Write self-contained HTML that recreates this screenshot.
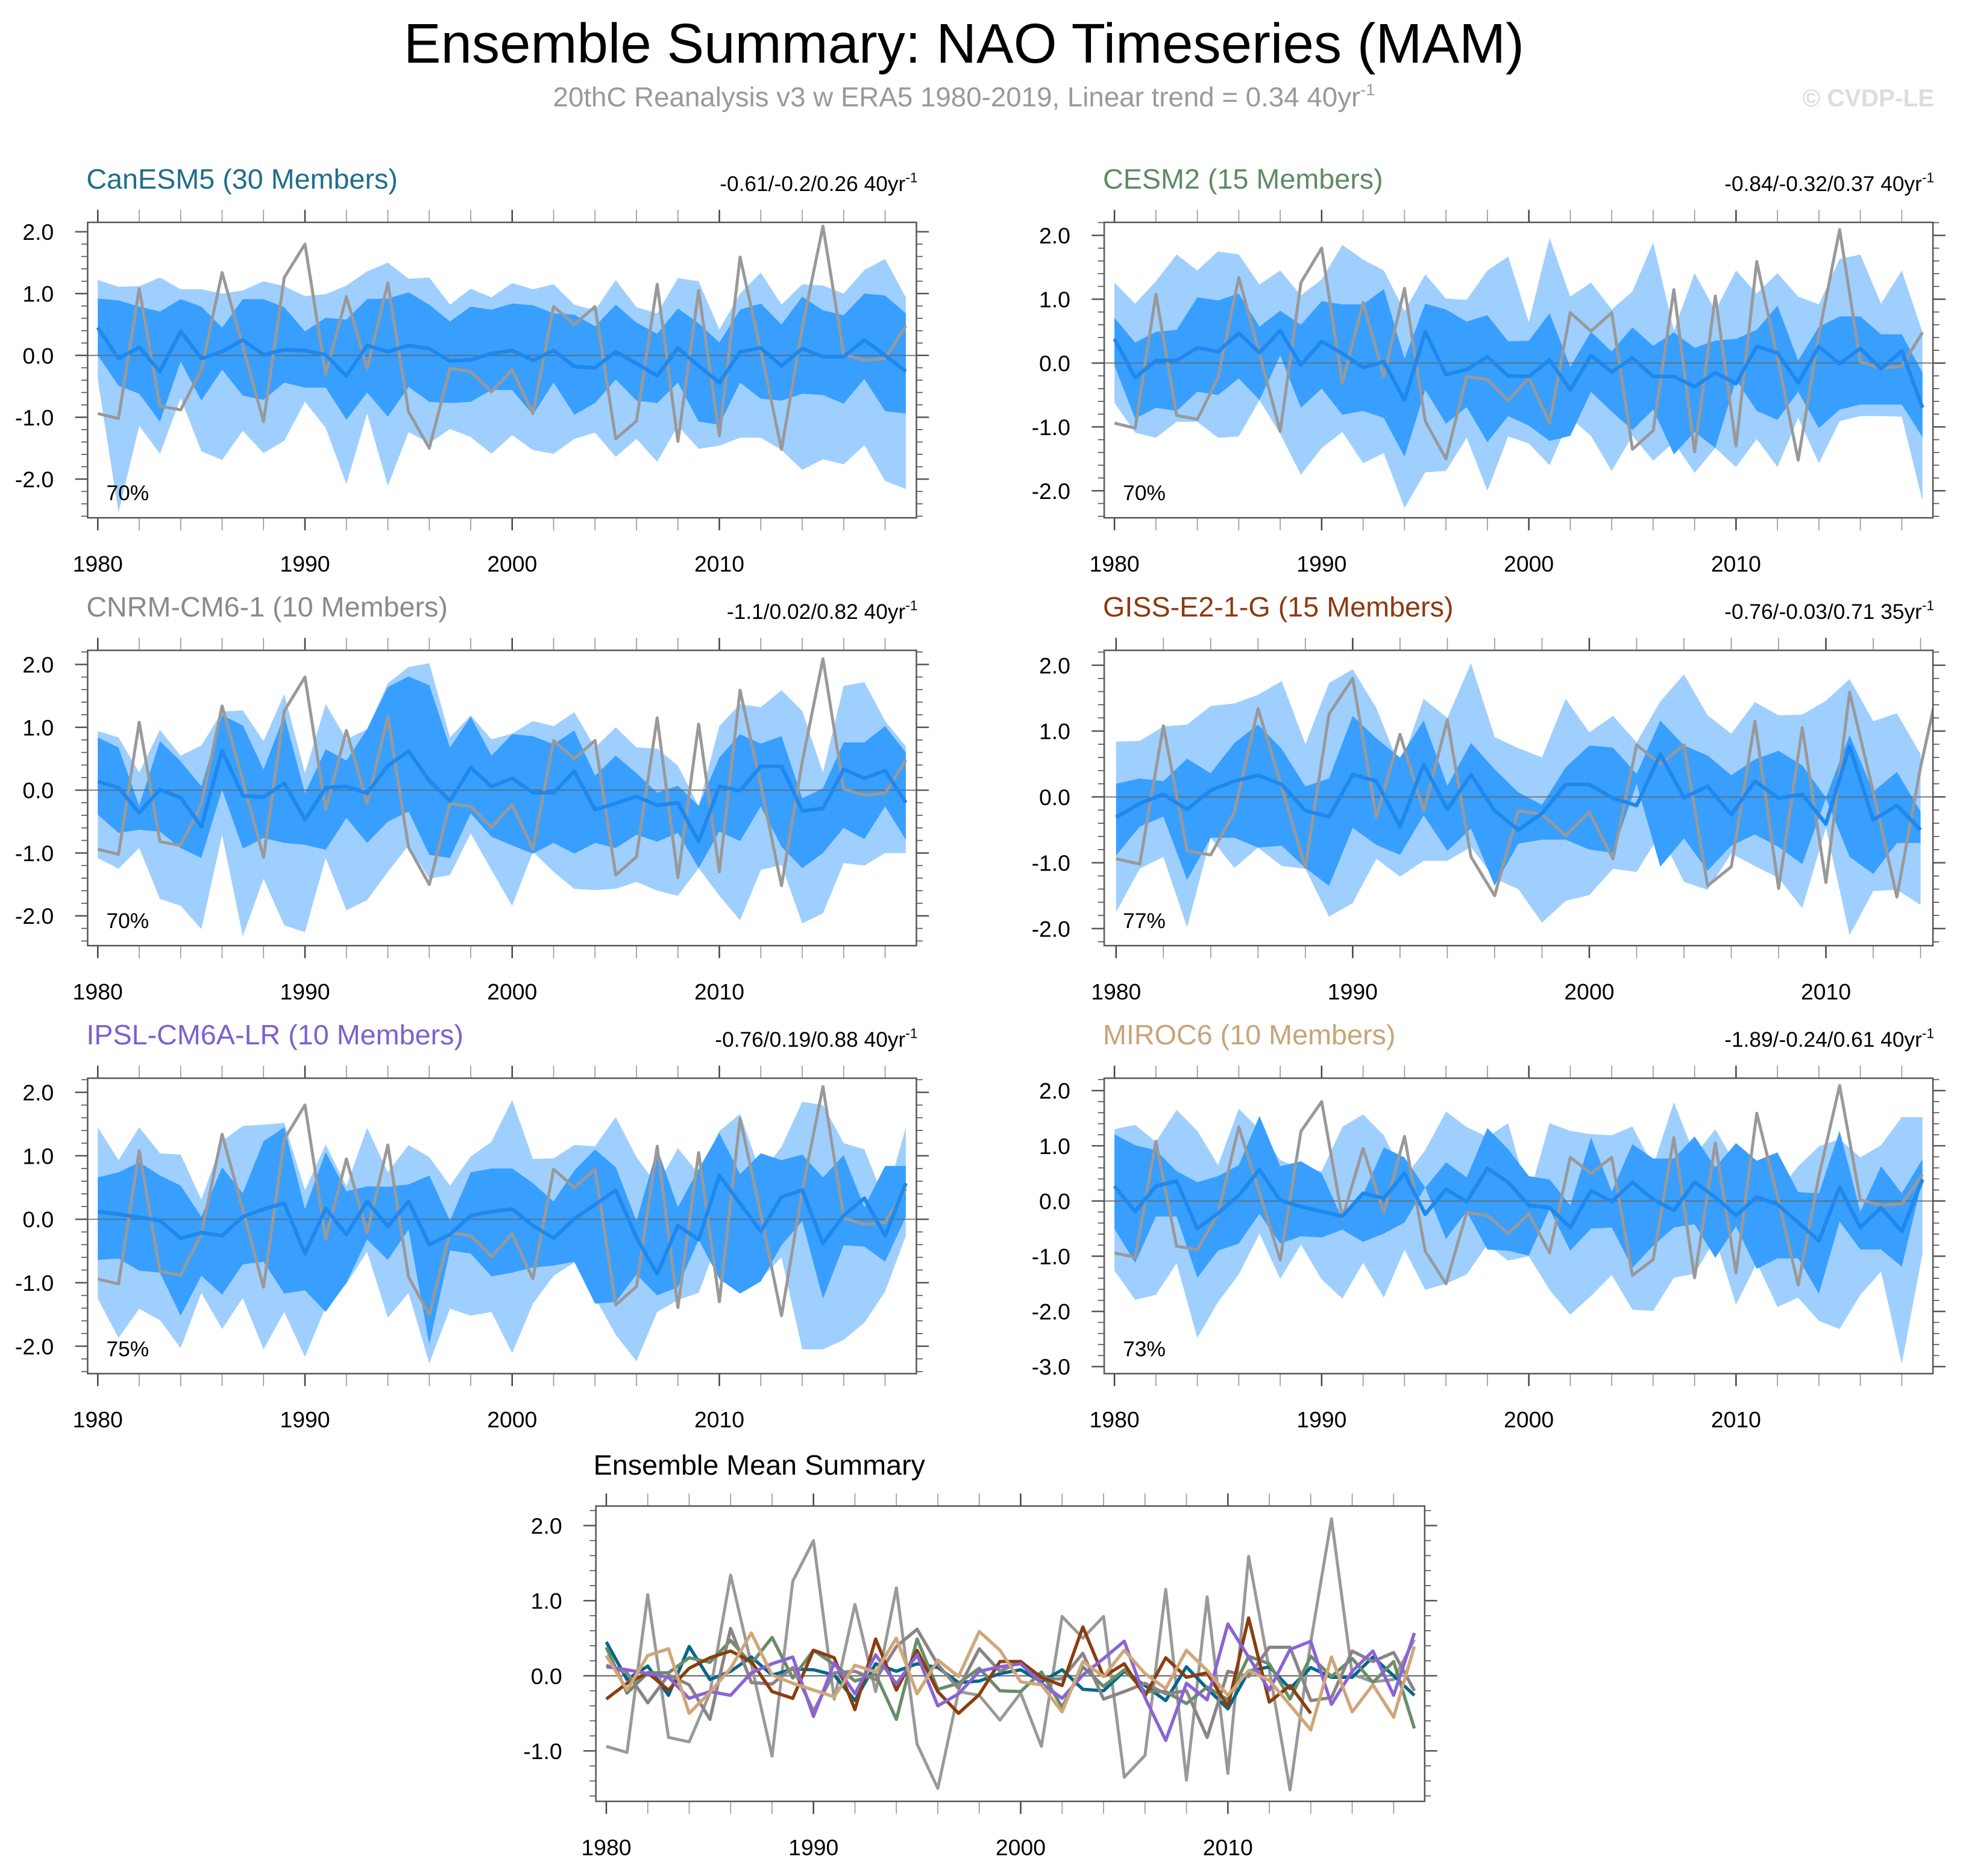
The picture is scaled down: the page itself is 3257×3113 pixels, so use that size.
<!DOCTYPE html>
<html><head><meta charset="utf-8"><style>
html,body{margin:0;padding:0;background:#fff;}
svg{display:block;font-family:"Liberation Sans",sans-serif;}
</style></head><body>
<svg id="root" xmlns="http://www.w3.org/2000/svg" width="3257" height="3113" viewBox="0 0 1568 1498.6">
<text x="770" y="50" text-anchor="middle" font-size="44.5" fill="#000">Ensemble Summary: NAO Timeseries (MAM)</text>
<text x="770" y="85" text-anchor="middle" font-size="22" fill="#999">20thC Reanalysis v3 w ERA5 1980-2019, Linear trend = 0.34 40yr<tspan dy="-9" font-size="13">-1</tspan></text>
<text x="1545" y="85" text-anchor="end" font-size="19.5" font-weight="bold" fill="#ddd">© CVDP-LE</text>
<text x="474" y="1178" font-size="22.5" fill="#000">Ensemble Mean Summary</text>
<g id="plots"></g>
</svg>
<script>
const years = [1980,1981,1982,1983,1984,1985,1986,1987,1988,1989,1990,1991,1992,1993,1994,1995,1996,1997,1998,1999,2000,2001,2002,2003,2004,2005,2006,2007,2008,2009,2010,2011,2012,2013,2014,2015,2016,2017,2018,2019];
const obs = [-0.94,-1.02,1.08,-0.82,-0.88,-0.23,1.34,0.15,-1.07,1.26,1.80,-0.31,0.95,-0.21,1.17,-0.91,-1.50,-0.21,-0.26,-0.59,-0.23,-0.94,0.79,0.50,0.79,-1.35,-1.06,1.15,-1.39,1.05,-1.30,1.59,0.08,-1.52,0.45,2.09,0.02,-0.08,-0.05,0.48];

// CanESM5
const canMean = [0.45,-0.05,0.13,-0.26,0.39,-0.05,0.06,0.25,0.01,0.09,0.08,0.01,-0.33,0.16,0.06,0.16,0.11,-0.09,-0.07,0.03,0.08,-0.08,0.08,-0.18,-0.2,0.06,-0.13,-0.33,0.12,-0.17,-0.44,0.06,0.12,-0.17,0.11,-0.02,-0.02,0.25,0,-0.26];
const canInHi = [0.92,0.89,0.79,0.71,0.91,0.79,0.45,0.91,0.91,0.78,0.39,0.61,0.58,0.91,0.92,1.02,0.82,0.55,0.79,0.74,0.84,0.81,0.68,0.66,0.47,0.82,0.53,0.35,0.76,0.52,0.21,0.74,0.84,0.5,0.95,0.73,0.65,1.0,0.97,0.68];
const canInLo = [0,-0.49,-0.62,-1.07,-0.1,-0.73,-0.23,-0.65,-0.72,-0.44,-0.52,-0.52,-1.04,-0.6,-0.99,-0.51,-0.75,-0.77,-0.75,-0.56,-0.56,-0.96,-0.44,-0.96,-0.77,-0.39,-0.73,-0.77,-0.44,-1.07,-1.12,-0.44,-0.7,-0.73,-0.62,-0.64,-0.78,-0.38,-0.9,-0.94];
const canOutHi = [1.22,1.11,1.12,1.26,1.07,1.07,1.0,1.05,1.2,1.12,0.96,0.99,1.13,1.36,1.5,1.24,1.26,0.82,1.08,0.94,1.17,1.07,1.15,0.82,0.73,1.22,0.78,0.68,1.25,1.2,0.42,1.0,1.34,0.82,1.15,1.13,1.0,1.38,1.56,0.94];
const canOutLo = [-0.39,-2.54,-1.14,-1.59,-0.69,-1.55,-1.69,-1.22,-1.58,-1.38,-0.75,-1.17,-2.08,-0.94,-2.11,-1.24,-1.42,-1.19,-1.32,-1.59,-1.29,-1.53,-1.59,-1.35,-1.25,-1.64,-1.35,-1.72,-1.14,-1.51,-1.46,-1.33,-1.33,-1.53,-1.85,-1.68,-1.76,-1.45,-2.03,-2.16];

// CESM2
const cesMean = [0.38,-0.23,0.04,0.04,0.24,0.18,0.47,0.16,0.51,-0.03,0.34,0.15,-0.07,0.02,-0.58,0.49,-0.18,-0.1,0.1,-0.2,-0.21,0.05,-0.42,0.12,-0.14,0.08,-0.21,-0.21,-0.37,-0.15,-0.32,0.26,0.16,-0.31,0.26,-0.01,0.23,-0.09,0.19,-0.7];
const cesInHi = [0.71,0.32,0.49,0.52,1.03,0.98,1.09,0.57,0.82,0.6,0.97,0.92,0.92,1.16,0.07,0.93,0.84,0.65,0.75,0.34,0.35,0.78,-0.06,0.49,0.18,0.56,0.27,0.48,0.24,0.35,0.38,0.52,0.9,0.04,0.57,0.73,0.73,0.45,0.45,-0.15];
const cesInLo = [-0.04,-0.87,-0.7,-0.75,-0.45,-0.5,-0.24,-0.58,0.12,-0.7,-0.4,-0.81,-0.75,-0.86,-1.47,-0.42,-0.95,-0.69,-1.24,-0.83,-0.98,-1.22,-1.14,-0.45,-0.76,-1.05,-0.73,-1.43,-1.08,-1.33,-0.26,-0.75,-0.89,-0.45,-1.02,-0.73,-0.65,-0.65,-0.65,-1.16];
const cesOutHi = [1.26,0.93,1.28,1.7,1.45,1.75,1.7,1.23,1.45,1.06,1.31,1.85,1.62,1.45,0.81,1.39,1.01,0.99,1.45,1.67,0.64,1.96,1.04,1.26,0.84,1.12,1.89,0.51,1.41,0.82,1.45,1.09,1.41,1.04,0.92,1.63,1.7,0.93,1.45,0.48];
const cesOutLo = [-0.62,-1.09,-1.17,-0.92,-0.92,-1.17,-1.15,-0.58,-1.11,-1.75,-1.33,-1.08,-1.57,-1.41,-2.27,-1.71,-1.69,-1.17,-2.0,-1.15,-1.26,-1.6,-0.86,-1.14,-1.69,-1.14,-1.53,-1.24,-1.72,-1.33,-1.63,-1.19,-1.63,-0.86,-1.57,-0.91,-0.83,-0.83,-0.84,-2.16];

// CNRM-CM6-1
const cnrMean = [0.14,0.04,-0.36,0.01,-0.12,-0.58,0.63,-0.09,-0.11,0.11,-0.47,0.04,0.06,-0.05,0.39,0.62,0.15,-0.17,0.36,0.06,0.19,-0.04,-0.04,0.3,-0.31,-0.21,-0.1,-0.24,-0.2,-0.82,0.06,-0.01,0.38,0.38,-0.33,-0.29,0.33,0.19,0.31,-0.2];
const cnrInHi = [0.84,0.68,-0.25,0.78,0.46,0.06,1.19,1.03,0.33,1.19,-0.05,0.65,0.47,0.97,1.64,1.81,1.67,0.68,1.17,0.55,0.89,0.86,0.73,0.95,0.23,0.55,0.27,-0.04,0.07,-0.25,0.52,0.89,0.74,0.86,-0.13,0.03,0.76,0.76,1.02,0.6];
const cnrInLo = [-0.39,-0.68,-0.63,-0.66,-0.92,-1.08,0.01,-0.93,-0.76,-0.84,-0.87,-0.95,-0.44,-0.84,-0.5,-0.34,-1.03,-1.08,-0.37,-0.74,-0.88,-1.01,-0.84,-1.01,-0.84,-0.92,-0.71,-0.82,-0.68,-1.24,-0.66,-0.81,-0.26,-0.9,-1.24,-1.0,-0.6,-0.78,-0.26,-0.79];
const cnrOutHi = [0.94,0.84,0.28,0.96,0.55,0.71,1.25,1.27,0.78,1.53,0.27,1.37,0.81,0.97,1.7,1.96,2.02,0.84,1.19,0.81,0.9,1.1,1.02,1.24,0.68,1.0,0.68,0.66,0.39,-0.25,1.02,1.37,1.32,1.59,1.26,0.28,1.66,1.72,1.1,0.7];
const cnrOutLo = [-1.08,-1.25,-0.92,-1.73,-1.84,-2.21,-0.71,-2.32,-1.41,-2.15,-2.26,-1.08,-1.91,-1.75,-1.3,-0.88,-1.41,-1.35,-0.69,-1.27,-1.84,-0.98,-1.3,-1.57,-1.59,-1.57,-1.46,-1.6,-1.68,-1.24,-1.68,-2.07,-1.27,-1.19,-2.12,-1.96,-1.16,-1.2,-1.0,-1.0];

// GISS-E2-1-G (1980-2014)
const gisMean = [-0.31,-0.1,0.04,-0.19,0.1,0.24,0.33,0.19,-0.21,-0.3,0.34,0.24,-0.45,0.49,-0.19,0.34,-0.21,-0.5,-0.25,0.19,0.19,-0.02,-0.13,0.65,-0.01,0.16,-0.27,0.24,-0.02,0.04,-0.41,0.77,-0.35,-0.13,-0.5];
const gisInHi = [0.2,0.28,0.24,0.58,0.36,0.82,1.1,0.73,0.16,0.28,1.23,0.89,0.6,1.16,0.17,0.82,0.42,0.07,-0.12,0.45,0.78,0.75,0.35,1.16,0.78,0.63,0.33,0.57,0.7,0.48,-0.01,0.94,0.08,0.38,-0.22];
const gisInLo = [-0.89,-0.45,-0.3,-1.26,-0.62,-0.62,-0.77,-0.74,-1.08,-1.35,-0.47,-0.73,-0.88,-0.28,-0.82,-0.48,-1.35,-0.71,-0.65,-0.65,-0.8,-0.85,0.2,-1.06,-0.63,-1.12,-0.74,-0.57,-0.76,-1.02,-0.02,-0.91,-1.17,-0.7,-0.7];
const gisOutHi = [0.84,0.85,1.07,1.1,1.38,1.42,1.55,1.76,0.8,1.73,1.94,1.35,0.45,1.49,1.2,2.03,0.91,0.74,0.6,1.49,0.98,1.23,0.83,1.45,1.86,1.24,0.96,1.44,1.24,1.25,1.46,1.79,1.15,1.27,0.65];
const gisOutLo = [-1.75,-1.09,-0.91,-1.98,-0.62,-1.08,-0.77,-1.05,-1.09,-1.82,-1.61,-0.94,-1.21,-0.97,-0.97,-0.76,-1.24,-1.4,-1.91,-1.58,-1.49,-1.09,-1.14,-0.56,-1.29,-1.41,-0.86,-1.05,-1.23,-1.69,-0.47,-2.1,-1.43,-1.41,-1.64];

// IPSL-CM6A-LR
const ipsMean = [0.12,0.08,0.03,-0.02,-0.3,-0.21,-0.26,0.04,0.16,0.25,-0.54,0.17,-0.24,0.28,-0.11,0.28,-0.4,-0.24,0.06,0.12,0.16,-0.1,-0.3,0.01,0.23,0.46,-0.29,-0.86,-0.1,-0.32,0.69,0.25,-0.19,0.35,0.46,-0.38,0.06,0.33,-0.26,0.57];
const ipsInHi = [0.66,0.74,0.9,0.69,0.53,0.04,0.82,0.41,1.23,1.45,0.16,1.06,0.44,0.52,0.51,0.55,0.69,-0.02,0.74,0.8,0.8,0.57,0.28,0.77,1.1,0.82,-0.03,1.12,0.19,0.79,1.36,0.71,1.04,0.93,1.02,0.66,1.01,0.19,0.84,0.84];
const ipsInLo = [-0.64,-0.62,-0.81,-0.84,-1.52,-0.89,-1.19,-0.71,-0.67,-1.17,-1.12,-1.46,-1.0,-0.32,-0.64,-0.16,-1.97,-0.49,-0.54,-0.9,-0.84,-0.76,-0.73,-0.67,-1.33,-1.3,-0.87,-1.2,-1.07,-0.32,-0.94,-1.17,-0.98,-0.41,-0.03,-1.25,-0.41,-0.43,-0.67,0.04];
const ipsOutHi = [1.45,0.93,1.45,1.04,1.02,0.31,1.23,1.47,1.49,1.52,0.46,1.18,0.52,1.44,0.74,1.17,0.98,0.53,0.99,1.22,1.88,0.95,0.96,1.17,1.15,1.61,0.98,0.53,1.12,0.72,1.39,1.66,0.72,1.14,1.85,1.8,1.2,1.1,0.28,1.45];
const ipsOutLo = [-1.25,-1.87,-1.41,-1.59,-2.03,-1.16,-1.73,-1.24,-2.05,-1.46,-2.17,-1.38,-1.02,-0.51,-1.55,-1.16,-2.27,-1.41,-1.52,-1.46,-2.11,-1.33,-0.89,-0.68,-1.24,-1.82,-2.24,-1.46,-1.27,-1.16,-0.29,-1.17,-0.94,-0.6,-2.05,-2.05,-1.9,-1.63,-1.14,-0.26];

// MIROC6
const mirMean = [0.27,-0.19,0.27,0.36,-0.5,-0.22,0.1,0.57,0.01,-0.1,-0.19,-0.28,0.14,0.05,0.5,-0.24,0.21,-0.01,0.59,0.34,-0.08,-0.12,-0.48,0.19,-0.01,0.34,0.03,-0.17,0.34,0.07,-0.26,0.07,-0.06,-0.39,-0.72,0.25,-0.48,-0.12,-0.55,0.39];
const mirInHi = [1.21,1.01,0.92,0.54,0.34,0.45,0.65,1.54,0.63,0.72,0.5,-0.32,0.12,0.97,0.79,0.24,0.7,0.43,1.32,0.94,0.45,0.39,-0.08,1.15,0.17,1.03,0.77,0.77,1.17,0.61,1.05,0.73,0.88,0.16,0.14,1.27,-0.19,0.63,0.14,0.76];
const mirInLo = [-0.5,-1.12,-0.28,-0.28,-1.39,-0.9,-0.77,-0.23,-0.77,-0.64,-0.66,-0.52,-0.74,-0.59,-0.39,0.25,-0.69,-0.19,-0.88,-0.9,-0.99,-0.15,-0.9,-0.5,-0.48,-1.21,-0.81,-0.48,-0.42,-1.03,-0.46,-1.23,-1.04,-1.04,-1.68,-0.37,-0.88,-0.88,-1.19,0.39];
const mirOutHi = [1.3,1.38,1.07,1.65,1.27,0.65,1.67,1.3,0.74,0.59,0.54,1.34,1.57,1.19,0.43,0.92,1.62,1.34,1.16,1.41,0.07,1.41,1.27,1.21,1.19,1.35,0.63,1.79,0.83,1.3,0.65,0.43,0.16,0.63,0.99,1.12,0.79,1.01,1.52,1.52];
const mirOutLo = [-1.26,-1.79,-1.7,-1.13,-2.48,-1.83,-1.33,-0.59,-1.41,-0.79,-1.42,-1.77,-1.12,-1.75,-0.88,-1.61,-1.5,-1.33,-0.79,-1.08,-1.0,-1.61,-2.06,-1.72,-1.34,-1.97,-1.99,-1.39,-1.32,-0.68,-1.88,-1.12,-1.92,-1.75,-2.17,-2.32,-1.7,-1.28,-2.95,-0.95];

const yTicks = [2,1,0,-1,-2];
const yTicksMiroc = [2,1,0,-1,-2,-3];
const yTicksMean = [2,1,0,-1];
const xTickLabels = [1980,1990,2000,2010];

const NS = "http://www.w3.org/2000/svg";
const root = document.getElementById('plots');
function mk(tag, attrs, parent){ const e=document.createElementNS(NS,tag); for(const k in attrs) e.setAttribute(k,attrs[k]); (parent||root).appendChild(e); return e; }

const panels = [
 {key:'canesm5',title:'CanESM5 (30 Members)',color:'#1f6e8c',stats:'-0.61/-0.2/0.26 40yr',pct:'70%',L:70,R:732,T:177.6,B:413.6,x0:78.1,dx:16.55,y0:283.9,k:49.4,ticks:yTicks,n:40,m:canMean,ih:canInHi,il:canInLo,oh:canOutHi,ol:canOutLo},
 {key:'cesm2',title:'CESM2 (15 Members)',color:'#5f8a62',stats:'-0.84/-0.32/0.37 40yr',pct:'70%',L:882,R:1544,T:177.6,B:413.6,x0:890.2,dx:16.55,y0:290,k:51.0,ticks:yTicks,n:40,m:cesMean,ih:cesInHi,il:cesInLo,oh:cesOutHi,ol:cesOutLo},
 {key:'cnrm',title:'CNRM-CM6-1 (10 Members)',color:'#8a8a8a',stats:'-1.1/0.02/0.82 40yr',pct:'70%',L:70,R:732,T:519.5,B:755.4,x0:78.1,dx:16.55,y0:631.2,k:50.2,ticks:yTicks,n:40,m:cnrMean,ih:cnrInHi,il:cnrInLo,oh:cnrOutHi,ol:cnrOutLo},
 {key:'giss',title:'GISS-E2-1-G (15 Members)',color:'#8b3a0f',stats:'-0.76/-0.03/0.71 35yr',pct:'77%',L:882,R:1544,T:519.5,B:755.4,x0:891.5,dx:18.9,y0:636.6,k:52.6,ticks:yTicks,n:35,m:gisMean,ih:gisInHi,il:gisInLo,oh:gisOutHi,ol:gisOutLo},
 {key:'ipsl',title:'IPSL-CM6A-LR (10 Members)',color:'#7d5fd0',stats:'-0.76/0.19/0.88 40yr',pct:'75%',L:70,R:732,T:861.3,B:1097.3,x0:78.1,dx:16.55,y0:974.0,k:50.7,ticks:yTicks,n:40,m:ipsMean,ih:ipsInHi,il:ipsInLo,oh:ipsOutHi,ol:ipsOutLo},
 {key:'miroc6',title:'MIROC6 (10 Members)',color:'#c9a477',stats:'-1.89/-0.24/0.61 40yr',pct:'73%',L:882,R:1544,T:861.3,B:1097.3,x0:890.2,dx:16.55,y0:959.4,k:44.1,ticks:yTicksMiroc,n:40,m:mirMean,ih:mirInHi,il:mirInLo,oh:mirOutHi,ol:mirOutLo}
];
const meanColors = {canesm5:'#00678a',cesm2:'#6a8c69',cnrm:'#8c8386',giss:'#8b3d0d',ipsl:'#8a64d6',miroc6:'#d0a679'};

function axes(p, g){
  const xs = y => p.x0 + (y-1980)*p.dx;
  const ys = v => p.y0 - v*p.k;
  const vTop=(p.y0-p.T)/p.k, vBot=(p.y0-p.B)/p.k;
  for(let t=Math.ceil(vBot*5)/5; t<=vTop+1e-6; t+=0.2){
    const isMaj = Math.abs(t-Math.round(t))<1e-6;
    const len = isMaj?10:5;
    const l1=mk('line',{x1:p.L-len,x2:p.L,y1:ys(t),y2:ys(t),stroke:'#555','stroke-width':isMaj?1.2:0.8},g);
    
    
    const l2=mk('line',{x1:p.R,x2:p.R+len,y1:ys(t),y2:ys(t),stroke:'#555','stroke-width':isMaj?1.2:0.8},g);
    
    
  }
  p.ticks.forEach(t=>{
    const tx=mk('text',{x:p.L-27,y:ys(t)+6.5,'text-anchor':'end','font-size':18,fill:'#000'},g);
    tx.textContent=t.toFixed(1);
    
    
  });
  for(let yr=1980; xs(yr)<=p.R+0.5; yr+=2){
    const isMaj = yr%10===0;
    const b=mk('line',{x1:xs(yr),x2:xs(yr),y1:p.B,y2:p.B+10,stroke:isMaj?'#444':'#999','stroke-width':isMaj?1.2:0.8},g);
    
    
    const t=mk('line',{x1:xs(yr),x2:xs(yr),y1:p.T-10,y2:p.T,stroke:isMaj?'#444':'#999','stroke-width':isMaj?1.2:0.8},g);
    
    
  }
  xTickLabels.forEach(yr=>{
    const tx=mk('text',{x:xs(yr),y:p.B+43,'text-anchor':'middle','font-size':18,fill:'#000'},g);
    tx.textContent=yr;
    
    
  });
  return {xs,ys};
}

function band(hi, lo, n, xs, ys){
  let d='';
  for(let i=0;i<n;i++) d += (i?'L':'M')+xs(years[i]).toFixed(2)+','+ys(hi[i]).toFixed(2);
  for(let i=n-1;i>=0;i--) d += 'L'+xs(years[i]).toFixed(2)+','+ys(lo[i]).toFixed(2);
  return d+'Z';
}
function line(vals, n, xs, ys){
  let d='';
  for(let i=0;i<n;i++) d += (i?'L':'M')+xs(years[i]).toFixed(2)+','+ys(vals[i]).toFixed(2);
  return d;
}

panels.forEach((p,idx)=>{
  const g=mk('g',{});
  
  
  const defs=mk('defs',{},g);
  const cp=mk('clipPath',{id:'clip'+idx},defs);
  mk('rect',{x:p.L,y:p.T,width:p.R-p.L,height:p.B-p.T},cp);
  const {xs,ys}=axes(p,g);
  const pg=mk('g',{'clip-path':'url(#clip'+idx+')'},g);
  const ob=mk('path',{d:band(p.oh,p.ol,p.n,xs,ys),fill:'#9fcfff'},pg);
  
  
  const ib=mk('path',{d:band(p.ih,p.il,p.n,xs,ys),fill:'#389fff'},pg);
  
  
  const z=mk('line',{x1:p.L,x2:p.R,y1:ys(0),y2:ys(0),stroke:'#666','stroke-width':1,'stroke-opacity':0.8},pg);
  
  
  const ol=mk('path',{d:line(obs,40,xs,ys),fill:'none',stroke:'#999','stroke-width':2.4,'stroke-linejoin':'round'},pg);
  
  
  const ml=mk('path',{d:line(p.m,p.n,xs,ys),fill:'none',stroke:'#1e88ee','stroke-width':3,'stroke-linejoin':'round'},pg);
  
  
  const box=mk('rect',{x:p.L,y:p.T,width:p.R-p.L,height:p.B-p.T,fill:'none',stroke:'#555','stroke-width':1.2},g);
  
  
  const tt=mk('text',{x:p.L-1,y:p.T-27,'font-size':22.5,fill:p.color},g);
  tt.textContent=p.title;
  
  
  const st=mk('text',{x:p.R+1,y:p.T-25,'text-anchor':'end','font-size':17,fill:'#000'},g);
  st.textContent=p.stats;
  const sup=mk('tspan',{dy:-7,'font-size':11},st);
  sup.textContent='-1';
  
  
  const pc=mk('text',{x:p.L+15,y:p.B-14,'font-size':17,fill:'#000'},g);
  pc.textContent=p.pct;
  
  
});

(function(){
  const p={L:476,R:1138,T:1203.1,B:1439,x0:484.3,dx:16.55,y0:1338.7,k:60.0,ticks:yTicksMean};
  const g=mk('g',{});
  
  
  const defs=mk('defs',{},g);
  const cp=mk('clipPath',{id:'clipm'},defs);
  mk('rect',{x:p.L,y:p.T,width:p.R-p.L,height:p.B-p.T},cp);
  const {xs,ys}=axes(p,g);
  const pg=mk('g',{'clip-path':'url(#clipm)'},g);
  const z=mk('line',{x1:p.L,x2:p.R,y1:ys(0),y2:ys(0),stroke:'#666','stroke-width':1},pg);
  
  
  const ol=mk('path',{d:line(obs,40,xs,ys),fill:'none',stroke:'#999','stroke-width':2.4,'stroke-linejoin':'round'},pg);
  
  
  panels.forEach(q=>{
    const l=mk('path',{d:line(q.m,q.n,xs,ys),fill:'none',stroke:meanColors[q.key],'stroke-width':2.6,'stroke-linejoin':'round'},pg);
    
    
  });
  const box=mk('rect',{x:p.L,y:p.T,width:p.R-p.L,height:p.B-p.T,fill:'none',stroke:'#555','stroke-width':1.2},g);
  
  
})();
</script>
</body></html>
